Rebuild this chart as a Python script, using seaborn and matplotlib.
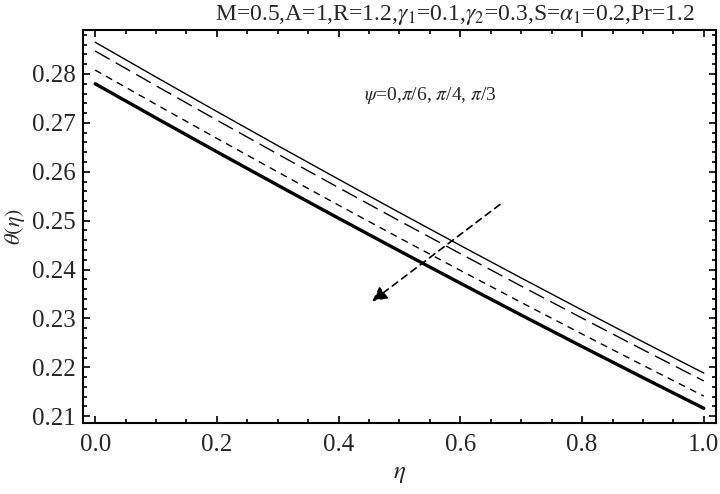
import numpy as np
import pandas as pd
import matplotlib
matplotlib.use("Agg")
import matplotlib.pyplot as plt
import seaborn as sns
from matplotlib.ticker import MultipleLocator

eta = [0.0, 0.1, 0.2, 0.3, 0.4, 0.5, 0.6, 0.7, 0.8, 0.9, 1.0]
theta_psi0 = [0.2865, 0.27937, 0.27232, 0.26535, 0.25846, 0.25165, 0.24492, 0.23827, 0.2317, 0.22521, 0.2188]
theta_psi_pi6 = [0.2847, 0.27759, 0.27056, 0.26361, 0.25674, 0.24995, 0.24324, 0.23661, 0.23006, 0.22359, 0.2172]
theta_psi_pi4 = [0.2808, 0.27377, 0.26682, 0.25995, 0.25316, 0.24645, 0.23982, 0.23327, 0.2268, 0.22041, 0.2141]
theta_psi_pi3 = [0.2780, 0.2710, 0.26408, 0.25724, 0.25048, 0.2438, 0.2372, 0.23068, 0.22424, 0.21788, 0.2116]

title = r"M=0.5,A=1,R=1.2,$\gamma_1$=0.1,$\gamma_2$=0.3,S=$\alpha_1$=0.2,Pr=1.2"
annot = r"$\psi$=0,$\pi$/6, $\pi$/4, $\pi$/3"

sns.set_style("ticks")
plt.rcParams["font.family"] = ["Liberation Serif", "DejaVu Serif"]
plt.rcParams["mathtext.fontset"] = "stix"

fig = plt.figure(figsize=(7.2, 4.94), dpi=100)
ax = fig.add_axes([83/720, 1-423/494, (716-83)/720, (423-30)/494])

series = [
    (theta_psi0, dict(lw=1.0, ls="-")),
    (theta_psi_pi6, dict(lw=1.0, dashes=(12, 5))),
    (theta_psi_pi4, dict(lw=1.0, dashes=(5, 4))),
    (theta_psi_pi3, dict(lw=2.4, ls="-")),
]
for vals, style in series:
    df = pd.DataFrame({"eta": eta, "theta": vals})
    sns.lineplot(data=df, x="eta", y="theta", ax=ax, color="black", **style)

ax.set_xlim(-0.02, 1.02)
ax.set_ylim(0.2086, 0.2890)
ax.xaxis.set_major_locator(MultipleLocator(0.2))
ax.xaxis.set_minor_locator(MultipleLocator(0.05))
ax.yaxis.set_major_locator(MultipleLocator(0.01))
ax.yaxis.set_minor_locator(MultipleLocator(0.002))
ax.xaxis.set_major_formatter(matplotlib.ticker.FormatStrFormatter("%.1f"))
ax.yaxis.set_major_formatter(matplotlib.ticker.FormatStrFormatter("%.2f"))
ax.tick_params(which="both", direction="in", top=True, right=True, color="black", width=1.2)
ax.tick_params(which="major", length=5, labelsize=18, pad=5)
ax.tick_params(axis="x", which="major", pad=8)
ax.tick_params(which="minor", length=3)
for s in ax.spines.values():
    s.set_linewidth(1.5)
    s.set_color("black")

ax.set_xlabel(r"$\eta$", fontsize=18, labelpad=5)
ax.set_ylabel(r"$\theta(\eta)$", fontsize=16, labelpad=4)
fig.text(455/720, 1-15/494, title, fontsize=17, ha="center", va="center")

ax.annotate("", xy=(0.455, 0.2335), xytext=(0.665, 0.2533),
            arrowprops=dict(arrowstyle="-|>", color="black", lw=1.2, ls=(0, (4, 3)),
                            mutation_scale=22, shrinkA=0, shrinkB=0))
ax.text(0.55, 0.2755, annot, fontsize=14, ha="center", va="center")

fig.savefig("out.png", dpi=100)
